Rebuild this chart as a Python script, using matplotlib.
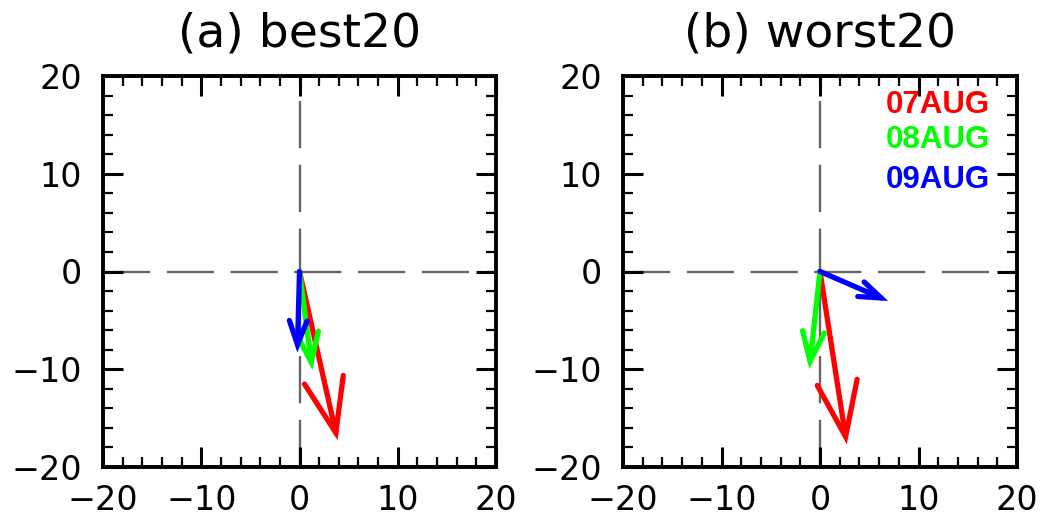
import numpy as np
import matplotlib
matplotlib.use("Agg")
import matplotlib.pyplot as plt
from matplotlib.ticker import MultipleLocator

### DATA ###
panel_titles = ["(a) best20", "(b) worst20"]
dates = ["07AUG", "08AUG", "09AUG"]
date_colors = ["#ff0000", "#00ff00", "#0000ff"]

# vector components (u, v) per date
best_u = [3.7, 1.2, -0.2]
best_v = [-16.5, -9.3, -7.5]
worst_u = [2.6, -1.0, 6.2]
worst_v = [-16.9, -9.2, -2.7]

lim = 20

### PLOTTING ###
fig = plt.figure(figsize=(10.42, 5.19), dpi=100)
ax_a = fig.add_axes([103 / 1042, 1 - 467 / 519, 393 / 1042, 391 / 519])
ax_b = fig.add_axes([623 / 1042, 1 - 467 / 519, 394 / 1042, 391 / 519])


def draw_arrow(ax, u, v, color):
    # shaft plus two open barbs (20 deg, ~35% of the vector length)
    L = np.hypot(u, v)
    ang = np.arctan2(v, u)
    ax.plot([0, u], [0, v], color=color, lw=3.8, solid_capstyle="round", zorder=3)
    bx, by = [], []
    for s in (1, -1):
        a = ang + np.pi + s * np.radians(20)
        bx.append(u + 0.35 * L * np.cos(a))
        by.append(v + 0.35 * L * np.sin(a))
    ax.plot([bx[0], u, bx[1]], [by[0], v, by[1]], color=color, lw=3.8,
            solid_joinstyle="miter", solid_capstyle="round", zorder=3)


for ax, title, us, vs in [(ax_a, panel_titles[0], best_u, best_v),
                          (ax_b, panel_titles[1], worst_u, worst_v)]:
    ax.set_xlim(-lim, lim)
    ax.set_ylim(-lim, lim)
    ax.plot([-lim, lim], [0, 0], color="0.4", lw=1.7, linestyle=(0, (20, 7)), zorder=1)
    ax.plot([0, 0], [-lim, lim], color="0.4", lw=1.7, linestyle=(0, (20, 7)), zorder=1)
    for u, v, c in zip(us, vs, date_colors):
        draw_arrow(ax, u, v, c)

    ax.xaxis.set_major_locator(MultipleLocator(10))
    ax.yaxis.set_major_locator(MultipleLocator(10))
    ax.xaxis.set_minor_locator(MultipleLocator(2))
    ax.yaxis.set_minor_locator(MultipleLocator(2))
    ax.tick_params(which="both", direction="in", top=True, right=True, color="black")
    ax.tick_params(which="major", length=14.5, width=2.2)
    ax.tick_params(which="minor", length=7, width=1.6)
    ax.tick_params(axis="x", which="major", labelsize=24, pad=12)
    ax.tick_params(axis="y", which="major", labelsize=24, pad=15)
    for sp in ax.spines.values():
        sp.set_linewidth(2.8)
    ax.set_title(title, fontsize=34, pad=21)

# date labels in panel (b)
for i, (d, c) in enumerate(zip(dates, date_colors)):
    ax_b.text(0.931, [0.905, 0.816, 0.714][i], d, color=c, fontsize=22.5,
              fontweight="bold", family="Liberation Sans",
              ha="right", va="baseline", transform=ax_b.transAxes)

plt.savefig("out.png", dpi=100)
